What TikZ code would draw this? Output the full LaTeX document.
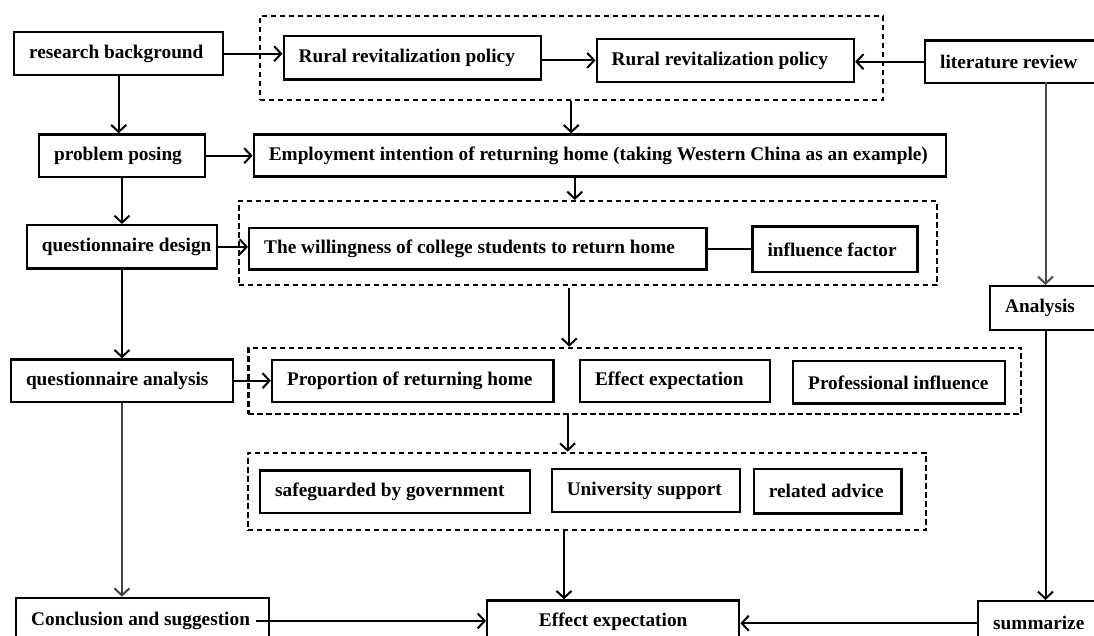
\documentclass[tikz,border=0pt]{standalone}
\usepackage{fontspec}
\setmainfont{Liberation Serif}
\usetikzlibrary{arrows.meta}
\tikzset{
 box/.style={draw, line width=2.4pt, anchor=north west, inner xsep=15pt, inner ysep=0pt, font=\bfseries\fontsize{19.3}{22}\selectfont},
 dbox/.style={draw, line width=2.1pt, dash pattern=on 5.5pt off 3.5pt, anchor=north west, inner sep=0pt},
 conn/.style={line width=2pt, -{Straight Barb[length=7pt,width=15pt]}},
 plainline/.style={line width=2pt},
}
\newcommand\lt[2]{\makebox[#1pt][l]{#2}}
\newcommand\ct[2]{\makebox[#1pt][c]{#2}}
\begin{document}
\begin{tikzpicture}[x=1pt,y=-1pt]
\useasboundingbox (0,0) rectangle (1094,635);
\clip (0,0) rectangle (1094,635);
% dashed groups
\node[dbox, minimum width=623.1pt, minimum height=84.3pt] (d1) at (258.6,15) {};
\node[dbox, minimum width=698.3pt, minimum height=84.3pt] (d2) at (237.5,200) {};
\node[dbox, minimum width=772.5pt, minimum height=66.6pt] (d3) at (247.4,346.7) {};
\node[dbox, minimum width=678.5pt, minimum height=77.6pt] (d4) at (246.7,451.7) {};
% boxes
\node[box, minimum width=209pt, minimum height=43pt] (rb) at (13,31) {\lt{179}{research background}};
\node[box, minimum width=257.5pt, minimum height=43.3pt] (rp1) at (282.5,35) {\lt{227.5}{Rural revitalization policy}};
\node[box, minimum width=257.2pt, minimum height=43pt] (rp2) at (595.5,37.7) {\lt{227.2}{Rural revitalization policy}};
\node[box, minimum width=190pt, minimum height=42.4pt] (lit) at (924,39.3) {\lt{160}{literature review}};
\node[box, minimum width=165.6pt, minimum height=42.4pt] (pp) at (37.9,133.3) {\lt{135.6}{problem posing}};
\node[box, minimum width=692pt, minimum height=42pt] (emp) at (252.6,133.3) {\lt{662}{Employment intention of returning home (taking Western China as an example)}};
\node[box, minimum width=190.4pt, minimum height=43.3pt] (qd) at (25.6,224) {\lt{160.4}{questionnaire design}};
\node[box, minimum width=457.4pt, minimum height=41.6pt] (will) at (248,226.7) {\lt{427.4}{The willingness of college students to return home}};
\node[box, minimum width=165pt, minimum height=45.7pt] (inf) at (751.3,225.3) {\lt{135}{influence factor}};
\node[box, minimum width=130pt, minimum height=44pt] (ana) at (989,285) {\lt{100}{Analysis}};
\node[box, minimum width=221.8pt, minimum height=42.4pt] (qa) at (9.8,358.3) {\lt{191.8}{questionnaire analysis}};
\node[box, minimum width=281.5pt, minimum height=41.7pt] (prop) at (270.9,359) {\lt{251.5}{Proportion of returning home}};
\node[box, minimum width=190.1pt, minimum height=41.7pt] (eff) at (578.9,359) {\lt{160.1}{Effect expectation}};
\node[box, minimum width=212pt, minimum height=42.3pt] (prof) at (792,360) {\lt{182}{Professional influence}};
\node[box, minimum width=270pt, minimum height=42.4pt] (safe) at (259,469.3) {\lt{240}{safeguarded by government}};
\node[box, minimum width=188.4pt, minimum height=43pt] (univ) at (550.6,467.7) {\lt{158.4}{University support}};
\node[box, minimum width=147.7pt, minimum height=44.6pt] (rel) at (752.7,467.7) {\lt{117.7}{related advice}};
\node[box, minimum width=253pt, minimum height=46pt] (concl) at (15,596.7) {\lt{223}{Conclusion and suggestion}};
\node[box, minimum width=252pt, minimum height=42pt] (effb) at (486,599.3) {\ct{222}{Effect expectation}};
\node[box, minimum width=140pt, minimum height=44pt] (summ) at (977,600) {\lt{110}{summarize}};
% helper coordinates
\coordinate (litdown) at (1045.5,81.7);
\coordinate (anadown) at (1045.5,329);
\coordinate (d2out) at (569.3,288);
% connectors
\draw[conn] (rb.east) -- (rb.east -| rp1.west);
\draw[conn] (rp2.west -| rp1.east) -- (rp2.west);
\draw[conn] (lit.west) -- (lit.west -| rp2.east);
\draw[conn] (d1.south) -- (d1.south |- emp.north);
\draw[conn] (rb.south) -- (rb.south |- pp.north);
\draw[conn] (pp.east) -- (pp.east -| emp.west);
\draw[conn] ([xshift=-25pt]emp.south) -- ([xshift=-25pt]emp.south |- d2.north);
\draw[conn] (pp.south) -- (pp.south |- qd.north);
\draw[conn] (qd.east) -- (qd.east -| will.west);
\draw[plainline] (will.east) -- (will.east -| inf.west);
\draw[conn] (d2out) -- (d2out |- d3.north);
\draw[conn] (qd.south) -- (qd.south |- qa.north);
\draw[conn] (qa.east) -- (qa.east -| prop.west);
\draw[conn] ([xshift=-67.15pt]d3.south) -- ([xshift=-67.15pt]d3.south |- d4.north);
\draw[conn, draw=black!75] (qa.south) -- (qa.south |- concl.north);
\draw[conn] ([xshift=-23pt]d4.south) -- ([xshift=-23pt]d4.south |- effb.north);
\draw[conn, draw=black!70] (litdown) -- (litdown |- ana.north);
\draw[conn] (anadown) -- (anadown |- summ.north);
\draw[conn] ([xshift=-14pt]concl.east) -- (concl.east -| effb.west);
\draw[conn] (summ.west) -- (summ.west -| effb.east);
\end{tikzpicture}
\end{document}
